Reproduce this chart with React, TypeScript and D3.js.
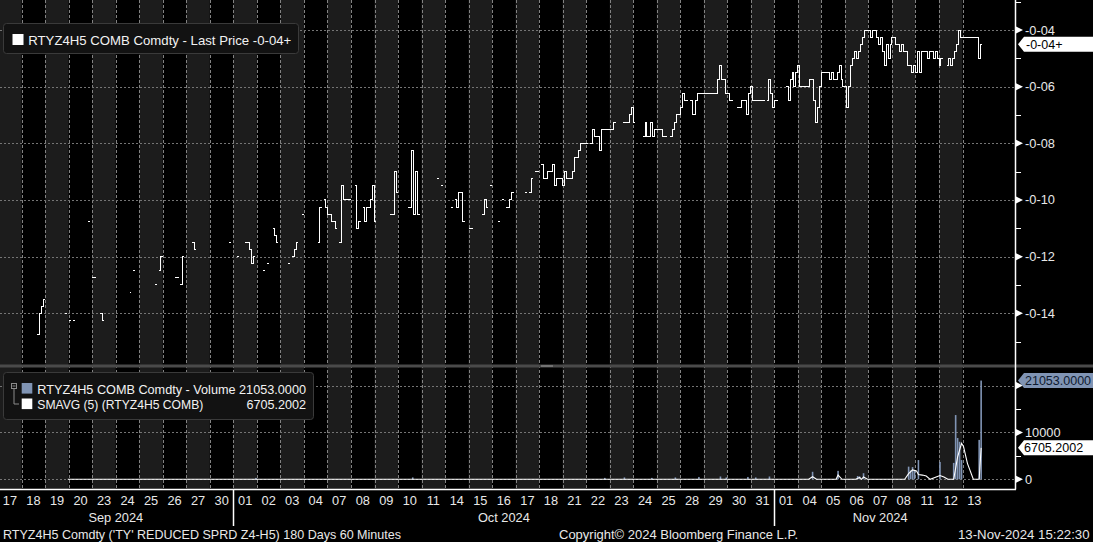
import React from 'react';
import * as d3 from 'd3';

const n = null;

const dayLabels = ['17','18','19','20','23','24','25','26','27','30',
  '01','02','03','04','07','08','09','10','11','14','15','16','17','18','21','22','23','24','25','28','29','30','31',
  '01','04','05','06','07','08','11','12','13'];
const monthNames = ['Sep 2024', 'Oct 2024', 'Nov 2024'];
const monthDayCounts = [10, 23, 9];

const priceMajorTicks = [-4, -6, -8, -10, -12, -14];
const priceMinorTicks = [-3, -5, -7, -9, -11, -13, -15];
const volumeMajorTicks = [0, 10000, 20000];
const volumeLabelTicks = [0, 10000];
const volumeMinorTicks = [5000, 15000];

// price in 32nds, 12 two-hour slots per trading day, null = no trade
const priceSlots: (number | null)[][] = [
  [n,n,n,n,n,n,n,n,n,n,n,n],
  [n,n,n,n,n,n,n,n,-14.75,-14,-13.75,-13.5],
  [n,n,n,n,n,n,n,n,n,n,-14,n],
  [-14.25,n,-14.25,n,n,n,n,n,n,n,-10.75,n],
  [-12.75,-12.75,n,n,-14,-14.25,n,n,n,n,n,n],
  [n,n,n,n,n,n,n,-13.25,n,-12.5,n,n],
  [n,n,n,n,n,n,n,n,-13,n,-12.5,-12],
  [n,n,n,n,n,n,-12.75,-12.75,n,-13,-12,n],
  [n,n,n,-11.5,-11.75,n,n,n,n,n,n,n],
  [n,n,n,n,n,n,n,n,n,n,-11.5,n],
  [n,n,-12,n,n,n,-11.5,-11.5,-11.75,-12.25,-12,n],
  [n,n,n,-12.5,n,-12.25,n,n,-11,-11.25,-11.5,n],
  [n,n,n,n,-12.25,n,-12,-11.75,-11.5,n,n,-10.5],
  [n,n,n,n,n,n,n,-11.5,-10.25,n,-10,-10.25],
  [-10.5,-10.5,-10.75,-10.75,-11,n,-11.5,-9.5,-10,-10,-10,-10],
  [n,n,-9.5,-11,-10.75,n,-10.25,-10.75,-10.25,-10.25,-10,-9.5],
  [-10.75,n,n,n,n,n,n,n,-10.5,-10.5,-9,-9.75],
  [n,n,n,n,n,-10.25,-10.25,-8.25,-10.5,-9,-10.5,n],
  [n,n,n,n,n,n,n,n,-9.25,n,-9.5,n],
  [n,n,n,-10.25,n,-10,-10.25,-9.75,-9.75,-10.75,n,n],
  [-11,-11,n,n,n,n,n,-10.5,-10,-10.25,n,-9.5],
  [n,n,n,-10.75,n,-10,n,-10.25,-10.25,-10,-9.75,n],
  [n,n,n,n,n,-9.75,n,-9.75,-9.25,n,-9,-9],
  [n,-8.75,-9.25,-9.25,-9,-9,-9,-8.75,-9.5,-9.25,-9.25,-9.25],
  [-9.5,-9,-9.25,-9.25,-9.25,-9,-8.5,-8.5,-8.25,-8,-8,-8],
  [-8,n,-8,-7.5,-7.75,-7.75,-7.75,-8.25,-7.5,-7.5,-7.5,-7.5],
  [-7.5,-7.5,-7.25,n,n,n,n,-7.25,-7.25,-7.25,-7,-6.75],
  [-7.25,n,n,n,n,-7.75,-7.25,-7.75,-7.75,-7.25,-7.75,-7.5],
  [-7.5,-7.5,-7.5,-7.75,-7.75,n,n,-7.75,-7.5,-7.25,-7,-7],
  [-6.75,-6.25,-6.5,-6.5,n,-6.5,-7,-7,-6.5,-6.25,-6.25,-6.25],
  [-6.25,-6.25,-6.25,-6.25,-6.25,-6.25,-6.25,-5.75,-5.25,-5.75,-5.75,-6.25],
  [-6.25,-6.5,-6.5,n,n,-6.75,-6.75,-6.5,-6.5,-6.5,-7,-6.25],
  [-6,-6.5,-6.5,-6.5,-6.5,-6.5,-6.5,n,-6.5,-5.75,-6.25,-6.75],
  [-6.5,-6.5,n,n,n,n,-6,-6.5,-5.75,-5.5,-6,-5.5],
  [-5.25,-6,-6,-6,-6,-6,-5.75,-5.75,-6.5,-7.25,-6.75,-6],
  [-5.5,-5.5,-5.5,-5.5,-5.75,-5.5,-5.75,-5.75,-5.5,-5.25,-5.75,-6],
  [-6,-6.75,-6,-5.25,-5,-4.75,-5,-4.75,-4.5,-4.25,-4,-4],
  [-4,-4.25,-4,-4,-4.25,-4.5,-4.25,-4.75,-5.25,-4.5,-5,-4.5],
  [-4.25,-4.25,-4.5,-4.5,-4.75,-4.5,-4.75,-4.75,-5.25,-5.25,-5.5,-5.25],
  [-5.5,-4.75,-5.5,-4.75,-4.75,-4.75,-5,-4.75,-4.75,-5,-4.75,-5],
  [-5.25,-5,n,n,-5.25,-5,-5.25,-5,-4.75,-4.5,-4,-4.25],
  [-4.25,-4.25,-4.25,-4.25,-4.25,-4.25,-4.25,-4.25,-5,-4.5,n,n],
];

// [day index, slot, volume]
const volumeBars: [number, number, number][] = [
  [10,11,300],[17,7,400],[25,9,300],[26,7,400],[27,9,300],[28,9,400],[29,9,500],
  [30,8,600],[30,11,400],[31,10,500],[32,2,400],[32,9,600],
  [34,7,1600],[35,8,1800],[36,6,700],[36,7,600],[36,9,1300],
  [38,8,2700],[38,9,1900],[38,10,2600],[38,11,2000],[39,1,4100],
  [40,0,3700],[40,7,3500],[40,8,13700],[40,9,8800],[40,10,8000],[40,11,4100],
  [41,8,8400],[41,9,21053],
];

// SMAVG(5) vertices: [day index, slot, value]
const smaPoints: [number, number, number][] = [
  [2,11,0],[34,5,0],[34,7,550],[34,9,0],[35,7,0],[35,8,900],[35,10,0],
  [36,5,0],[36,7,400],[36,8,0],[36,9,500],[36,11,0],
  [38,6,0],[38,8,1200],[38,10,2000],[39,0,1800],[39,1,1000],[39,3,900],[39,5,700],[39,7,0],
  [40,0,800],[40,2,500],[40,4,0],[40,7,0],[40,9,4800],[40,11,7670],[41,0,7000],[41,2,3400],
  [41,5,0],[41,8,0],[41,9,6705.2002],
];

const lastPrice = -4.5;
const lastPriceText = '-0-04+';
const lastVolume = 21053;
const lastVolumeText = '21053.0000';
const lastSma = 6705.2002;
const lastSmaText = '6705.2002';

const priceLegendText = 'RTYZ4H5 COMB Comdty - Last Price -0-04+';
const volumeLegendText = 'RTYZ4H5 COMB Comdty - Volume 21053.0000';
const smaLegendName = 'SMAVG (5) (RTYZ4H5 COMB)';
const footerLeft = "RTYZ4H5 Comdty ('TY' REDUCED SPRD Z4-H5) 180 Days 60 Minutes";
const footerMid = 'Copyright\u00A9 2024 Bloomberg Finance L.P.';
const footerRight = '13-Nov-2024 15:22:30';

const fmt32 = (v: number) => {
  const a = Math.abs(v);
  const whole = Math.floor(a + 1e-9);
  return `-0-${String(whole).padStart(2, '0')}${a - whole >= 0.5 ? '+' : ''}`;
};

export default function App() {
  const W = 1093, H = 542;
  const SPD = 12;
  const nDays = dayLabels.length;
  const x0 = -1.8, dayW = 23.52;
  const axisX = 1015;
  const axisY = 489.5;
  const xs = d3.scaleLinear().domain([0, nDays * SPD]).range([x0, x0 + nDays * dayW]);
  const xDay = (i: number) => xs(i * SPD);
  const yP = d3.scaleLinear().domain([-4, -14]).range([30, 313.3]);
  const yV = d3.scaleLinear().domain([0, 20000]).range([479.3, 385.5]);

  type P = { s: number; v: number } | null;
  const pts: P[] = [];
  priceSlots.forEach((day, d) => {
    day.forEach((v, k) => {
      const s = d * SPD + k;
      if (v == null) { pts.push(null); return; }
      pts.push({ s, v });
      pts.push({ s: s + 1, v });
    });
  });
  const priceLine = d3.line<P>()
    .defined((p) => p != null)
    .x((p) => xs((p as any).s))
    .y((p) => yP((p as any).v));
  const pricePath = priceLine(pts) || '';

  const smaLine = d3.line<[number, number, number]>()
    .x((p) => xs(p[0] * SPD + p[1] + 0.5))
    .y((p) => yV(p[2]));
  const smaPath = smaLine(smaPoints) || '';

  const monthStarts: number[] = [];
  monthDayCounts.reduce((acc, c) => { monthStarts.push(acc); return acc + c; }, 0);

  const font = "'Liberation Sans', Arial, sans-serif";
  const txt = '#e8e8e8';
  const gridV = '#828282';
  const gridH = '#747474';

  const tri = (y: number) => `M${axisX + 1},${y - 3.5}L${axisX + 8},${y}L${axisX + 1},${y + 3.5}Z`;
  const tag = (y: number, h: number) =>
    `M${axisX + 3},${y}L${axisX + 9},${y - h / 2}L${W},${y - h / 2}L${W},${y + h / 2}L${axisX + 9},${y + h / 2}Z`;

  return (
    <svg width={W} height={H} style={{ position: 'absolute', left: 0, top: 0, display: 'block' }} fontFamily={font}>
      <rect x={0} y={0} width={W} height={H} fill="#000" />
      {dayLabels.map((_, i) => (
        <rect key={'b' + i} x={xDay(i)} y={0} width={dayW} height={axisY}
          fill={i % 2 === 0 ? '#1c1c1c' : '#000'} />
      ))}
      {dayLabels.slice(1).map((_, j) => {
        const x = Math.round(xDay(j + 1)) + 0.5;
        return <line key={'v' + j} x1={x} x2={x} y1={0} y2={axisY} stroke={gridV} strokeDasharray="3 2" strokeWidth={1} />;
      })}
      {priceMajorTicks.map((t) => {
        const y = Math.round(yP(t)) + 0.5;
        return <line key={'hp' + t} x1={0} x2={axisX} y1={y} y2={y} stroke={gridH} strokeDasharray="2 2" />;
      })}
      {volumeMajorTicks.map((t) => {
        const y = Math.round(yV(t)) + 0.5;
        return <line key={'hv' + t} x1={0} x2={axisX} y1={y} y2={y} stroke={gridH} strokeDasharray="2 2" />;
      })}

      <path d={pricePath} fill="none" stroke="#fff" strokeWidth={1} shapeRendering="crispEdges" />

      {volumeBars.map(([d, k, v], i) => {
        const cx = xs(d * SPD + k + 0.5);
        return <rect key={'vb' + i} x={cx - 0.8} y={yV(v)} width={1.6} height={yV(0) - yV(v)} fill="#8094b4" />;
      })}
      <path d={smaPath} fill="none" stroke="#fff" strokeWidth={1.1} />

      <rect x={0} y={364.5} width={W} height={3} fill="#4a4a4a" />
      <line x1={541} x2={553} y1={366} y2={366} stroke="#9a9a9a" strokeWidth={1} />

      <line x1={axisX + 0.5} x2={axisX + 0.5} y1={0} y2={axisY} stroke="#fff" strokeWidth={1.5} />
      <line x1={0} x2={axisX + 1} y1={axisY} y2={axisY} stroke="#fff" strokeWidth={1.5} />
      {priceMinorTicks.map((t) => {
        const y = Math.round(yP(t)) + 0.5;
        return <line key={'pm' + t} x1={axisX} x2={axisX + 6} y1={y} y2={y} stroke="#fff" />;
      })}
      {priceMajorTicks.map((t) => (
        <g key={'pt' + t}>
          <path d={tri(yP(t))} fill="#fff" />
          <text x={axisX + 10} y={yP(t) + 4.5} fontSize={12.8} fill={txt}>{fmt32(t)}</text>
        </g>
      ))}
      {volumeMinorTicks.map((t) => {
        const y = Math.round(yV(t)) + 0.5;
        return <line key={'vm' + t} x1={axisX} x2={axisX + 6} y1={y} y2={y} stroke="#fff" />;
      })}
      {volumeMajorTicks.map((t) => (
        <path key={'vtt' + t} d={tri(yV(t))} fill="#fff" />
      ))}
      {volumeLabelTicks.map((t) => (
        <text key={'vt' + t} x={axisX + 10} y={yV(t) + 4.5} fontSize={12.8} fill={txt}>{String(t)}</text>
      ))}

      <path d={tag(yP(lastPrice), 15)} fill="#fff" />
      <text x={axisX + 11} y={yP(lastPrice) + 4.5} fontSize={12.5} fill="#000">{lastPriceText}</text>
      <path d={tag(yV(lastVolume), 15)} fill="#8094b4" />
      <text x={axisX + 10} y={yV(lastVolume) + 4.5} fontSize={12.5} fill="#0e1a30">{lastVolumeText}</text>
      <path d={tag(yV(lastSma), 15)} fill="#fff" />
      <text x={axisX + 9} y={yV(lastSma) + 4.5} fontSize={12.5} fill="#000">{lastSmaText}</text>

      <rect x={3.5} y={23.5} width={295} height={30} rx={3} fill="#121212" stroke="#3a3a3a" />
      <rect x={12.5} y={34} width={11} height={11} fill="#fff" />
      <text x={28.3} y={45} fontSize={13} fill="#f2f2f2" textLength={263} lengthAdjust="spacingAndGlyphs">{priceLegendText}</text>

      <rect x={3.5} y={372.5} width={310} height={47} rx={3} fill="#121212" stroke="#3a3a3a" />
      <rect x={11.5} y={383.5} width={5} height={5} fill="none" stroke="#8a8a8a" />
      <line x1={12.5} x2={15.5} y1={386} y2={386} stroke="#8a8a8a" />
      <path d="M14,389 V404 H19" fill="none" stroke="#8a8a8a" />
      <rect x={21.7} y={383} width={10.6} height={10.6} fill="#8094b4" />
      <rect x={21.7} y={398.5} width={10.6} height={10.6} fill="#fff" />
      <text x={37.3} y={393.5} fontSize={12.6} fill="#f2f2f2" textLength={268.7} lengthAdjust="spacingAndGlyphs">{volumeLegendText}</text>
      <text x={37.3} y={409} fontSize={12.6} fill="#f2f2f2" textLength={166} lengthAdjust="spacingAndGlyphs">{smaLegendName}</text>
      <text x={306} y={409} fontSize={12.6} fill="#f2f2f2" textAnchor="end">{lastSmaText}</text>

      {dayLabels.map((d, i) => (
        <text key={'d' + i} x={xs(i * SPD + SPD / 2)} y={505} fontSize={12.8} fill={txt} textAnchor="middle">{d}</text>
      ))}
      {monthNames.map((m, j) => {
        const s = monthStarts[j];
        const e = s + monthDayCounts[j];
        return (
          <text key={'m' + j} x={(xDay(s) + xDay(e)) / 2} y={521.5} fontSize={12.8} fill={txt} textAnchor="middle">{m}</text>
        );
      })}
      {monthStarts.slice(1).map((s, j) => {
        const x = Math.round(xDay(s)) + 0.5;
        return <line key={'ms' + j} x1={x} x2={x} y1={axisY} y2={526} stroke="#fff" strokeWidth={1.5} />;
      })}

      <text x={3} y={538.5} fontSize={12.4} fill={txt} textLength={398} lengthAdjust="spacingAndGlyphs">{footerLeft}</text>
      <text x={559} y={538.5} fontSize={12.4} fill={txt} textLength={239} lengthAdjust="spacingAndGlyphs">{footerMid}</text>
      <text x={958} y={538.5} fontSize={12.4} fill={txt} textLength={131.5} lengthAdjust="spacingAndGlyphs">{footerRight}</text>
    </svg>
  );
}
